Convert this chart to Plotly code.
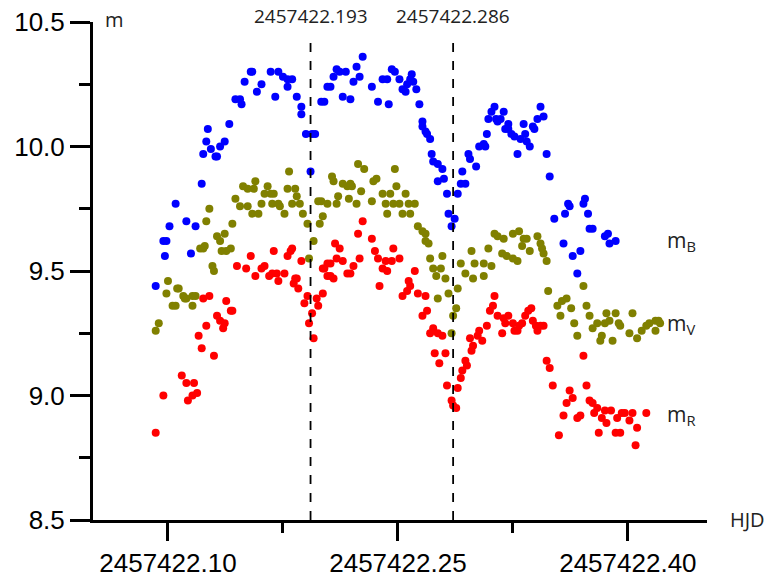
import plotly.graph_objects as go

HJD0 = 2457422.0

# ---- m_B (blue) ----
b_dt = [0.092, 0.097, 0.099, 0.098, 0.101, 0.105, 0.112, 0.115, 0.118, 0.122,
        0.123, 0.125, 0.126, 0.128, 0.131, 0.132, 0.134, 0.137, 0.140, 0.144,
        0.147, 0.148, 0.150, 0.154, 0.155, 0.158, 0.161, 0.167, 0.170, 0.172,
        0.175, 0.178, 0.178, 0.181, 0.184, 0.187, 0.187, 0.190, 0.193, 0.194,
        0.196, 0.200, 0.202, 0.204, 0.206, 0.208, 0.210, 0.212, 0.214, 0.216,
        0.219, 0.221, 0.223, 0.225, 0.227, 0.233, 0.237, 0.240, 0.243, 0.244,
        0.246, 0.248, 0.251, 0.253, 0.255, 0.256, 0.258, 0.259, 0.260, 0.262,
        0.264, 0.266, 0.266, 0.268, 0.269, 0.271, 0.272, 0.273, 0.276, 0.276,
        0.279, 0.280, 0.282, 0.283, 0.285, 0.287, 0.289, 0.291, 0.292, 0.294,
        0.296, 0.297, 0.301, 0.303, 0.306, 0.307, 0.308, 0.309, 0.311, 0.313,
        0.314, 0.315, 0.317, 0.319, 0.320, 0.322, 0.322, 0.324, 0.326, 0.328,
        0.330, 0.332, 0.333, 0.334, 0.336, 0.338, 0.339, 0.341, 0.343, 0.345,
        0.347, 0.349, 0.352, 0.358, 0.359, 0.361, 0.362, 0.364, 0.367, 0.369,
        0.371, 0.372, 0.374, 0.375, 0.377, 0.385, 0.387, 0.388, 0.392]
b_mag = [9.44, 9.62, 9.62, 9.56, 9.68, 9.77, 9.70, 9.57, 9.68, 9.85,
         9.97, 10.02, 10.07, 9.99, 9.96, 9.96, 10.00, 10.02, 10.09, 10.19,
         10.19, 10.17, 10.26, 10.30, 10.30, 10.22, 10.25, 10.30, 10.20, 10.30,
         10.28, 10.27, 10.24, 10.27, 10.20, 10.13, 10.16, 10.05, 9.90, 10.05,
         10.05, 10.18, 10.18, 10.24, 10.24, 10.28, 10.31, 10.30, 10.20, 10.30,
         10.19, 10.26, 10.32, 10.28, 10.36, 10.24, 10.18, 10.27, 10.27, 10.17,
         10.31, 10.30, 10.27, 10.23, 10.22, 10.25, 10.27, 10.29, 10.26, 10.23,
         10.17, 10.10, 10.08, 10.06, 10.05, 10.03, 9.97, 9.94, 9.86, 9.93,
         9.91, 9.87, 9.81, 9.73, 9.68, 9.71, 9.81, 9.85, 9.90, 9.85,
         9.97, 9.95, 9.92, 10.00, 10.01, 10.00, 10.05, 10.11, 10.14, 10.16,
         10.11, 10.10, 10.11, 10.14, 10.07, 10.07, 10.09, 10.05, 10.04, 9.97,
         10.03, 10.09, 10.05, 10.02, 10.00, 10.08, 10.07, 10.11, 10.16, 10.12,
         9.97, 9.88, 9.71, 9.61, 9.73, 9.77, 9.76, 9.56, 9.49, 9.58,
         9.77, 9.79, 9.73, 9.67, 9.67, 9.64, 9.65, 9.61, 9.62]

# ---- m_V (olive) ----
v_dt = [0.092, 0.094, 0.099, 0.100, 0.103, 0.105, 0.106, 0.107, 0.110, 0.111,
        0.112, 0.116, 0.116, 0.118, 0.121, 0.123, 0.124, 0.125, 0.127, 0.129,
        0.130, 0.132, 0.134, 0.135, 0.137, 0.138, 0.141, 0.142, 0.144, 0.147,
        0.149, 0.152, 0.152, 0.155, 0.156, 0.157, 0.159, 0.161, 0.163, 0.165,
        0.167, 0.168, 0.169, 0.172, 0.173, 0.176, 0.178, 0.179, 0.181, 0.183,
        0.184, 0.186, 0.188, 0.191, 0.192, 0.195, 0.198, 0.199, 0.200, 0.201,
        0.204, 0.207, 0.208, 0.210, 0.211, 0.214, 0.217, 0.218, 0.219, 0.220,
        0.223, 0.224, 0.226, 0.228, 0.233, 0.234, 0.236, 0.240, 0.242, 0.243,
        0.245, 0.247, 0.248, 0.249, 0.251, 0.253, 0.255, 0.257, 0.258, 0.261,
        0.263, 0.266, 0.268, 0.268, 0.270, 0.271, 0.273, 0.275, 0.276, 0.278,
        0.279, 0.281, 0.283, 0.285, 0.286, 0.288, 0.289, 0.291, 0.294, 0.298,
        0.299, 0.300, 0.306, 0.306, 0.309, 0.311, 0.313, 0.315, 0.318, 0.319,
        0.321, 0.325, 0.325, 0.328, 0.329, 0.331, 0.332, 0.334, 0.336, 0.341,
        0.343, 0.344, 0.345, 0.347, 0.348, 0.354, 0.356, 0.357, 0.360, 0.363,
        0.365, 0.367, 0.371, 0.373, 0.375, 0.377, 0.380, 0.382, 0.383, 0.385,
        0.386, 0.388, 0.390, 0.392, 0.394, 0.395, 0.401, 0.403, 0.406, 0.409,
        0.412, 0.414, 0.418, 0.418, 0.420, 0.421]
v_mag = [9.26, 9.29, 9.41, 9.46, 9.36, 9.36, 9.43, 9.43, 9.40, 9.39,
         9.39, 9.40, 9.36, 9.40, 9.59, 9.59, 9.60, 9.70, 9.75, 9.52,
         9.50, 9.64, 9.62, 9.58, 9.65, 9.58, 9.59, 9.69, 9.79, 9.76,
         9.84, 9.83, 9.76, 9.73, 9.83, 9.86, 9.73, 9.77, 9.81, 9.84,
         9.81, 9.77, 9.81, 9.77, 9.76, 9.73, 9.83, 9.90, 9.77, 9.83,
         9.80, 9.77, 9.73, 9.69, 9.55, 9.62, 9.78, 9.69, 9.78, 9.72,
         9.77, 9.88, 9.86, 9.77, 9.80, 9.85, 9.84, 9.79, 9.85, 9.84,
         9.77, 9.93, 9.82, 9.91, 9.78, 9.86, 9.87, 9.81, 9.77, 9.73,
         9.81, 9.77, 9.91, 9.84, 9.77, 9.73, 9.81, 9.77, 9.73, 9.77,
         9.68, 9.66, 9.62, 9.65, 9.61, 9.55, 9.51, 9.48, 9.39, 9.51,
         9.56, 9.47, 9.41, 9.25, 9.32, 9.35, 9.43, 9.53, 9.49, 9.58,
         9.47, 9.53, 9.53, 9.48, 9.59, 9.52, 9.65, 9.64, 9.57, 9.63,
         9.56, 9.65, 9.55, 9.54, 9.66, 9.60, 9.63, 9.63, 9.58, 9.64,
         9.61, 9.59, 9.57, 9.54, 9.42, 9.36, 9.32, 9.38, 9.39, 9.35,
         9.29, 9.24, 9.44, 9.36, 9.32, 9.27, 9.29, 9.22, 9.24, 9.29,
         9.33, 9.30, 9.22, 9.33, 9.29, 9.28, 9.25, 9.33, 9.23, 9.26,
         9.28, 9.29, 9.30, 9.26, 9.30, 9.29]

# ---- m_R (red) ----
r_dt = [0.092, 0.097, 0.109, 0.112, 0.113, 0.116, 0.117, 0.119, 0.120, 0.122,
        0.123, 0.125, 0.127, 0.130, 0.132, 0.134, 0.136, 0.137, 0.138, 0.141,
        0.142, 0.145, 0.151, 0.154, 0.157, 0.161, 0.163, 0.166, 0.168, 0.169,
        0.171, 0.172, 0.176, 0.178, 0.180, 0.181, 0.182, 0.183, 0.184, 0.185,
        0.187, 0.189, 0.191, 0.192, 0.194, 0.195, 0.197, 0.198, 0.201, 0.201,
        0.202, 0.204, 0.204, 0.206, 0.206, 0.208, 0.209, 0.210, 0.212, 0.214,
        0.217, 0.219, 0.221, 0.224, 0.225, 0.227, 0.233, 0.235, 0.237, 0.238,
        0.240, 0.242, 0.243, 0.246, 0.247, 0.251, 0.253, 0.256, 0.257, 0.258,
        0.261, 0.263, 0.266, 0.268, 0.269, 0.271, 0.273, 0.274, 0.276, 0.277,
        0.279, 0.281, 0.282, 0.285, 0.286, 0.288, 0.289, 0.291, 0.292, 0.294,
        0.295, 0.297, 0.298, 0.299, 0.302, 0.303, 0.305, 0.308, 0.310, 0.312,
        0.313, 0.315, 0.319, 0.318, 0.320, 0.322, 0.325, 0.326, 0.328, 0.329,
        0.331, 0.333, 0.335, 0.337, 0.338, 0.340, 0.341, 0.343, 0.345, 0.347,
        0.349, 0.351, 0.355, 0.358, 0.360, 0.362, 0.364, 0.367, 0.369, 0.371,
        0.373, 0.375, 0.377, 0.378, 0.380, 0.381, 0.383, 0.385, 0.386, 0.389,
        0.392, 0.393, 0.395, 0.396, 0.398, 0.401, 0.403, 0.405, 0.406, 0.412]
r_mag = [8.85, 9.00, 9.08, 9.05, 8.98, 9.00, 9.05, 9.01, 9.24, 9.19,
         9.39, 9.28, 9.40, 9.16, 9.32, 9.30, 9.27, 9.29, 9.38, 9.34,
         9.34, 9.52, 9.51, 9.56, 9.48, 9.51, 9.52, 9.48, 9.49, 9.58,
         9.49, 9.46, 9.49, 9.56, 9.58, 9.59, 9.45, 9.47, 9.47, 9.43,
         9.54, 9.37, 9.40, 9.29, 9.33, 9.23, 9.39, 9.36, 9.41, 9.51,
         9.51, 9.48, 9.53, 9.53, 9.48, 9.47, 9.61, 9.55, 9.59, 9.54,
         9.49, 9.49, 9.52, 9.65, 9.55, 9.70, 9.63, 9.58, 9.55, 9.44,
         9.51, 9.54, 9.50, 9.54, 9.59, 9.55, 9.40, 9.42, 9.46, 9.44,
         9.50, 9.41, 9.32, 9.40, 9.34, 9.25, 9.27, 9.17, 9.25, 9.13,
         9.24, 9.17, 9.04, 8.98, 8.96, 8.95, 9.03, 9.07, 9.10, 9.14,
         9.12, 9.23, 9.18, 9.20, 9.24, 9.26, 9.22, 9.28, 9.34, 9.36,
         9.40, 9.32, 9.31, 9.25, 9.29, 9.32, 9.29, 9.26, 9.26, 9.28,
         9.29, 9.32, 9.34, 9.35, 9.30, 9.28, 9.26, 9.28, 9.28, 9.14,
         9.11, 9.04, 8.84, 8.92, 8.97, 9.02, 8.99, 8.91, 8.92, 9.16,
         9.04, 8.98, 8.97, 8.93, 8.95, 8.85, 8.91, 8.94, 8.89, 8.94,
         8.85, 8.91, 8.85, 8.93, 8.93, 8.90, 8.93, 8.80, 8.87, 8.93]

# ---- reference epochs (dashed lines) ----
mark_hjd = [2457422.193, 2457422.286]
mark_labels = ["2457422.193", "2457422.286"]

# ---- axes ----
x_range = [2457422.0511, 2457422.4516]
x_ticks = [2457422.10, 2457422.25, 2457422.40]
x_ticktext = ["2457422.10", "2457422.25", "2457422.40"]
x_minor = [2457422.175, 2457422.325]
y_range = [8.5, 10.5]
y_ticks = [8.5, 9.0, 9.5, 10.0, 10.5]
y_ticktext = ["8.5", "9.0", "9.5", "10.0", "10.5"]
y_minor = [8.75, 9.25, 9.75, 10.25]

assert len(b_dt) == len(b_mag)
assert len(v_dt) == len(v_mag)
assert len(r_dt) == len(r_mag)

series = [
    ("m<sub>B</sub>", b_dt, b_mag, "#0000FF"),
    ("m<sub>V</sub>", v_dt, v_mag, "#808000"),
    ("m<sub>R</sub>", r_dt, r_mag, "#FF0000"),
]

fig = go.Figure()
for name, dt, mag, col in series:
    fig.add_trace(go.Scatter(
        x=[HJD0 + d for d in dt], y=mag, mode="markers", name=name,
        marker=dict(color=col, size=8, symbol="circle", line=dict(width=0)),
        showlegend=False,
    ))

for xv in mark_hjd:
    fig.add_shape(type="line", xref="x", yref="paper", x0=xv, x1=xv,
                  y0=0, y1=0.974, line=dict(color="black", width=1.8, dash="dash"))

for xv, t in zip(mark_hjd, mark_labels):
    fig.add_annotation(x=xv, xref="x", y=1.012, yref="paper", text=t,
                       showarrow=False, xanchor="center", yanchor="middle",
                       font=dict(family="Open Sans", size=19, color="#222222"))

side_font = dict(family="Open Sans", size=21, color="#222222")
fig.add_annotation(x=0.932, xref="paper", y=0.560, yref="paper", text="m<sub>B</sub>",
                   showarrow=False, xanchor="left", yanchor="middle", font=side_font)
fig.add_annotation(x=0.932, xref="paper", y=0.393, yref="paper", text="m<sub>V</sub>",
                   showarrow=False, xanchor="left", yanchor="middle", font=side_font)
fig.add_annotation(x=0.932, xref="paper", y=0.210, yref="paper", text="m<sub>R</sub>",
                   showarrow=False, xanchor="left", yanchor="middle", font=side_font)
fig.add_annotation(x=0.016, xref="paper", y=1.006, yref="paper", text="m",
                   showarrow=False, xanchor="left", yanchor="middle",
                   font=dict(family="Open Sans", size=20, color="#222222"))
fig.add_annotation(x=1.034, xref="paper", y=0.002, yref="paper", text="HJD",
                   showarrow=False, xanchor="left", yanchor="middle",
                   font=dict(family="Open Sans", size=20, color="#222222"))

tick_font = dict(family="Liberation Sans, Arial", size=26, color="black")
fig.update_xaxes(
    range=x_range, tickmode="array", tickvals=x_ticks, ticktext=x_ticktext,
    showline=True, linecolor="black", linewidth=3, mirror=False,
    ticks="outside", ticklen=18, tickwidth=3, tickcolor="black",
    minor=dict(tickmode="array", tickvals=x_minor, ticks="outside", ticklen=10,
               tickwidth=3, tickcolor="black", showgrid=False),
    showgrid=False, zeroline=False, tickfont=tick_font, automargin=False,
    ticklabeloverflow="allow",
)
fig.update_yaxes(
    range=y_range, tickmode="array", tickvals=y_ticks, ticktext=y_ticktext,
    showline=True, linecolor="black", linewidth=3, mirror=False,
    ticks="outside", ticklen=20, tickwidth=3, tickcolor="black",
    minor=dict(tickmode="array", tickvals=y_minor, ticks="outside", ticklen=11,
               tickwidth=3, tickcolor="black", showgrid=False),
    showgrid=False, zeroline=False, tickfont=tick_font, automargin=False,
    ticklabeloverflow="allow",
)
# page body adds an 8px offset, so the figure is 765x573 to fill the 773x581 window
fig.update_layout(
    width=765, height=573,
    margin=dict(l=85, r=66, t=14, b=61, autoexpand=False),
    plot_bgcolor="white", paper_bgcolor="white",
)
fig.write_html("out.html")
